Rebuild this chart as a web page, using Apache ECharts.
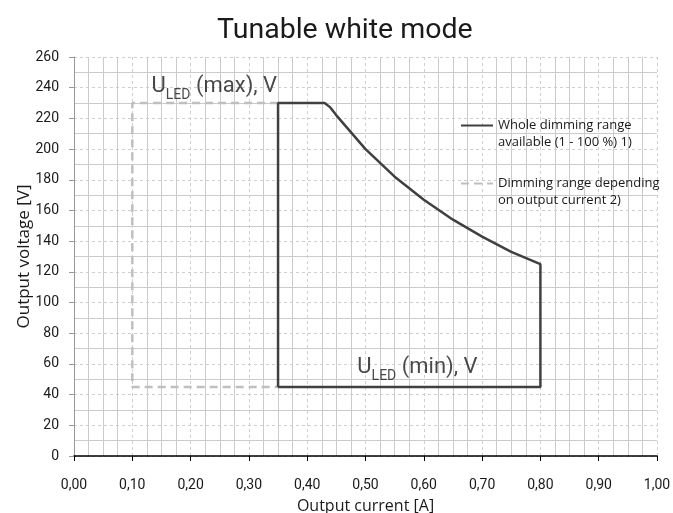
<!DOCTYPE html>
<html>
<head>
<meta charset="utf-8">
<script src="https://cdn.jsdelivr.net/npm/echarts@6/dist/echarts.min.js"></script>
<style>
  html, body { margin: 0; padding: 0; background: #fff; }
  #chart { width: 673px; height: 513px; }
</style>
</head>
<body>
<div id="chart"></div>
<script>
// whole dimming range (closed outline, constant-power curve)
const wholeRange = [
  [0.35, 45], [0.35, 230], [0.43, 230], [0.44, 227], [0.45, 222],
  [0.50, 200], [0.55, 182], [0.60, 167], [0.65, 154], [0.70, 143],
  [0.75, 133], [0.80, 125], [0.80, 45], [0.35, 45]
]
// dimming range depending on output current
const currentRange = [
  [0.35, 230], [0.10, 230], [0.10, 45], [0.35, 45]
]
const seriesNames = [
  'Whole dimming range available (1 - 100 %) 1)',
  'Dimming range depending on output current 2)'
]
// blank first line keeps the legend line level with the first text line
const legendLines = {
  'Whole dimming range available (1 - 100 %) 1)': ' \nWhole dimming range\navailable (1 - 100 %) 1)',
  'Dimming range depending on output current 2)': ' \nDimming range depending\non output current 2)'
}
// annotation anchors [x, y] and text
const maxLabel = { pos: [0.133, 242], text: ' (max), V' }
const minLabel = { pos: [0.486, 59], text: ' (min), V' }

const chart = echarts.init(document.getElementById('chart'))

const fmtComma = v => v.toFixed(2).replace('.', ',')

const labelRich = {
  u: { fontSize: 22, color: '#1a1a1a', fontFamily: 'Roboto', verticalAlign: 'bottom', lineHeight: 26 },
  sub: { fontSize: 14, color: '#1a1a1a', fontFamily: 'Roboto', verticalAlign: 'bottom', lineHeight: 26, padding: [0, 0, -5, 0] }
}

const annotation = (item) => ({
  type: 'scatter',
  symbolSize: 0,
  silent: true,
  data: [item.pos],
  label: {
    show: true,
    position: 'right',
    distance: 0,
    formatter: '{u|U}{sub|LED}{u|' + item.text + '}',
    rich: labelRich
  }
})

const option = {
  animation: false,
  title: {
    text: 'Tunable white mode',
    left: 212,
    top: 11,
    textStyle: { fontSize: 28.5, fontWeight: 'normal', color: '#1a1a1a', fontFamily: 'Roboto' }
  },
  legend: {
    orient: 'vertical',
    left: 455,
    top: 95,
    itemWidth: 32,
    itemHeight: 10,
    itemGap: 7,
    data: seriesNames,
    formatter: name => legendLines[name],
    itemStyle: { opacity: 0 },
    textStyle: { fontSize: 13, lineHeight: 17, color: '#1a1a1a', fontFamily: 'Open Sans' }
  },
  grid: { left: 74, right: 16, top: 57, bottom: 57, outerBoundsMode: 'none' },
  xAxis: {
    type: 'value',
    min: 0,
    max: 1,
    interval: 0.1,
    name: 'Output current [A]',
    nameLocation: 'middle',
    nameGap: 42,
    nameMoveOverlap: false,
    nameTextStyle: { fontSize: 16, color: '#1a1a1a', fontFamily: 'Open Sans' },
    axisLine: { lineStyle: { color: '#000', width: 1.5 } },
    axisTick: { show: true, length: 5, lineStyle: { color: '#000' } },
    axisLabel: { formatter: fmtComma, fontSize: 14, color: '#1a1a1a', margin: 22, fontFamily: 'Roboto' },
    splitLine: { show: true, lineStyle: { color: '#cfcfcf', type: [3, 3], width: 1 } },
    minorTick: { show: false, splitNumber: 4 },
    minorSplitLine: { show: true, lineStyle: { color: '#cbcbcb', width: 1 } }
  },
  yAxis: {
    type: 'value',
    min: 0,
    max: 260,
    interval: 20,
    name: 'Output voltage [V]',
    nameLocation: 'middle',
    nameGap: 41,
    nameMoveOverlap: false,
    nameTextStyle: { fontSize: 17, color: '#1a1a1a', fontFamily: 'Open Sans' },
    axisLine: { show: true, lineStyle: { color: '#999999', width: 1 } },
    axisTick: { show: true, length: 5, lineStyle: { color: '#999999' } },
    axisLabel: { fontSize: 14, color: '#1a1a1a', margin: 15, fontFamily: 'Roboto' },
    splitLine: { show: true, lineStyle: { color: '#cfcfcf', type: [3, 3], width: 1 } },
    minorTick: { show: false, splitNumber: 2 },
    minorSplitLine: { show: true, lineStyle: { color: '#cbcbcb', width: 1 } }
  },
  series: [
    {
      name: seriesNames[0],
      type: 'line',
      data: wholeRange,
      symbol: 'none',
      z: 4,
      lineStyle: { color: '#404040', width: 2.5 },
      itemStyle: { color: '#404040' }
    },
    {
      name: seriesNames[1],
      type: 'line',
      data: currentRange,
      symbol: 'none',
      z: 3,
      lineStyle: { color: '#bfbfbf', width: 2.5, type: [8, 5] },
      itemStyle: { color: '#bfbfbf' }
    },
    annotation(maxLabel),
    annotation(minLabel)
  ]
}

chart.setOption(option)
</script>
</body>
</html>
